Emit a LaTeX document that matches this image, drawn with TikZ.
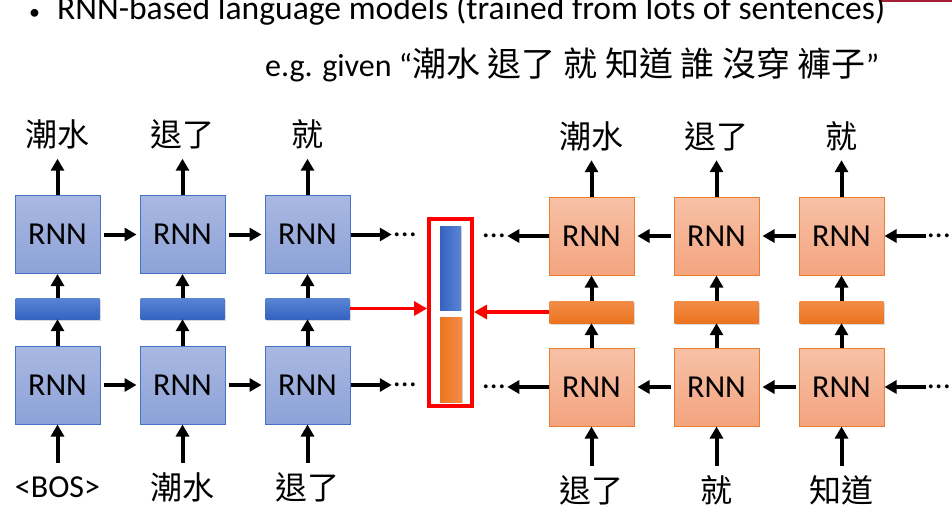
\documentclass[tikz,border=0pt]{standalone}
\usepackage{fontspec}
\setmainfont{Carlito}
\newfontfamily\cjk{Noto Sans CJK TC}
\usetikzlibrary{arrows.meta,positioning,shadows}

\definecolor{lineblue}{HTML}{4472C4}
\definecolor{boxblueA}{HTML}{A9B8E1}
\definecolor{boxblueB}{HTML}{8DA2D8}
\definecolor{barblueA}{HTML}{5B84D3}
\definecolor{barblueB}{HTML}{3463C0}
\definecolor{lineorange}{HTML}{ED7D31}
\definecolor{boxorangeA}{HTML}{F7C1A6}
\definecolor{boxorangeB}{HTML}{F4A47F}
\definecolor{barorangeA}{HTML}{F28D48}
\definecolor{barorangeB}{HTML}{EC741F}
\definecolor{slidered}{HTML}{A31F34}

\begin{document}
\begin{tikzpicture}[x=1pt,y=-1pt,node distance=125pt,
    every node/.style={font=\fontsize{32}{38}\selectfont},
    rnnb/.style={draw=lineblue,line width=1pt,top color=boxblueA,bottom color=boxblueB,
        minimum width=85pt,minimum height=78pt,inner sep=0pt},
    rnno/.style={draw=lineorange,line width=1pt,top color=boxorangeA,bottom color=boxorangeB,
        minimum width=85pt,minimum height=78pt,inner sep=0pt},
    barb/.style={top color=barblueA,bottom color=barblueB,minimum width=84pt,minimum height=21pt,
        inner sep=0pt,drop shadow={opacity=0.3,shadow xshift=1pt,shadow yshift=-2pt}},
    baro/.style={top color=barorangeA,bottom color=barorangeB,minimum width=84pt,minimum height=22pt,
        inner sep=0pt,drop shadow={opacity=0.3,shadow xshift=1pt,shadow yshift=-2pt}},
    word/.style={inner sep=0pt,minimum height=48pt},
    dots/.style={inner sep=2pt},
    link/.style={line width=4pt,-{Triangle[length=12pt,width=13pt]}},
    redlink/.style={red,line width=3.5pt,-{Triangle[length=13pt,width=14pt]}}]
\useasboundingbox (0,0) rectangle (952,512);

\fill[slidered] (880,0) rectangle (952,2);

\node[anchor=base west,inner sep=0pt] (t) at (29,19.5) {{\fontsize{22}{22}\selectfont\textbullet}\hspace{17pt}{\fontsize{33.6}{38}\selectfont RNN-based language models (trained from lots of sentences)}};
\node[anchor=base west,inner sep=0pt] (eg) at (265,76.7) {e.g. given “{\cjk\fontsize{34}{38}\selectfont 潮水 退了 就 知道 誰 沒穿 褲子}”};

% forward
\node[rnnb] (1) at (57.5,234.5) {RNN};
\node[rnnb] (2) [right of=1] {RNN};
\node[rnnb] (3) [right of=2] {RNN};
\node[barb] (4) [below of=1,node distance=74pt] {};
\node[barb] (5) [below of=2,node distance=74pt] {};
\node[barb] (6) [below of=3,node distance=74pt] {};
\node[rnnb] (7) [below of=4,node distance=76.5pt] {RNN};
\node[rnnb] (8) [below of=5,node distance=76.5pt] {RNN};
\node[rnnb] (9) [below of=6,node distance=76.5pt] {RNN};

\node[word] (21) [above of=1,node distance=100pt] {\cjk 潮水};
\node[word] (22) [above of=2,node distance=100pt] {\cjk 退了};
\node[word] (23) [above of=3,node distance=100pt] {\cjk 就};
\node[word] (24) [below of=7,node distance=102pt] {<BOS>};
\node[word] (25) [below of=8,node distance=102pt] {\cjk 潮水};
\node[word] (26) [below of=9,node distance=102pt] {\cjk 退了};

\node[dots] (41) at (405,234.5) {…};
\node[dots] (42) at (405,385) {…};

% backward
\node[rnno] (11) at (591.5,236) {RNN};
\node[rnno] (12) [right of=11] {RNN};
\node[rnno] (13) [right of=12] {RNN};
\node[baro] (14) [below of=11,node distance=76pt] {};
\node[baro] (15) [below of=12,node distance=76pt] {};
\node[baro] (16) [below of=13,node distance=76pt] {};
\node[rnno] (17) [below of=14,node distance=75pt] {RNN};
\node[rnno] (18) [below of=15,node distance=75pt] {RNN};
\node[rnno] (19) [below of=16,node distance=75pt] {RNN};

\node[word] (31) [above of=11,node distance=100pt] {\cjk 潮水};
\node[word] (32) [above of=12,node distance=100pt] {\cjk 退了};
\node[word] (33) [above of=13,node distance=100pt] {\cjk 就};
\node[word] (34) [below of=17,node distance=103pt] {\cjk 退了};
\node[word] (35) [below of=18,node distance=103pt] {\cjk 就};
\node[word] (36) [below of=19,node distance=103pt] {\cjk 知道};

\node[dots] (43) at (494,236) {…};
\node[dots] (44) at (494,387) {…};
\node[dots] (45) at (939,236) {…};
\node[dots] (46) at (939,387) {…};

% concatenation
\node[draw=red,line width=4pt,minimum width=43pt,minimum height=187pt,inner sep=0pt] (50) at (450.5,312.5) {};
\node[left color=barblueB,right color=barblueA,minimum width=21pt,minimum height=84pt,inner sep=0pt,
    drop shadow={opacity=0.3,shadow xshift=1pt,shadow yshift=-1pt}] (51) at (450.5,268) {};
\node[left color=barorangeB,right color=barorangeA,minimum width=22pt,minimum height=85pt,inner sep=0pt,
    drop shadow={opacity=0.3,shadow xshift=1pt,shadow yshift=-1pt}] (52) at (451,359.5) {};

\draw[link] (1) -- (21);\draw[link] (2) -- (22);\draw[link] (3) -- (23);
\draw[link] (4) -- (1);\draw[link] (5) -- (2);\draw[link] (6) -- (3);
\draw[link] (7) -- (4);\draw[link] (8) -- (5);\draw[link] (9) -- (6);
\draw[link] (24) -- (7);\draw[link] (25) -- (8);\draw[link] (26) -- (9);
\draw[link,shorten <=3pt,shorten >=3pt] (1) -- (2);\draw[link,shorten <=3pt,shorten >=3pt] (2) -- (3);
\draw[link,shorten <=3pt,shorten >=3pt] (7) -- (8);\draw[link,shorten <=3pt,shorten >=3pt] (8) -- (9);
\draw[link] (3) -- (41);\draw[link] (9) -- (42);

\draw[link] (11) -- (31);\draw[link] (12) -- (32);\draw[link] (13) -- (33);
\draw[link] (14) -- (11);\draw[link] (15) -- (12);\draw[link] (16) -- (13);
\draw[link] (17) -- (14);\draw[link] (18) -- (15);\draw[link] (19) -- (16);
\draw[link] (34) -- (17);\draw[link] (35) -- (18);\draw[link] (36) -- (19);
\draw[link,shorten <=3pt,shorten >=3pt] (12) -- (11);\draw[link,shorten <=3pt,shorten >=3pt] (13) -- (12);
\draw[link,shorten <=3pt,shorten >=3pt] (18) -- (17);\draw[link,shorten <=3pt,shorten >=3pt] (19) -- (18);
\draw[link] (11) -- (43);\draw[link] (17) -- (44);
\draw[link] (45) -- (13);\draw[link] (46) -- (19);

\draw[redlink] (6) -- (6 -| 50.west);
\draw[redlink] (14) -- (14 -| 50.east);
\end{tikzpicture}
\end{document}
